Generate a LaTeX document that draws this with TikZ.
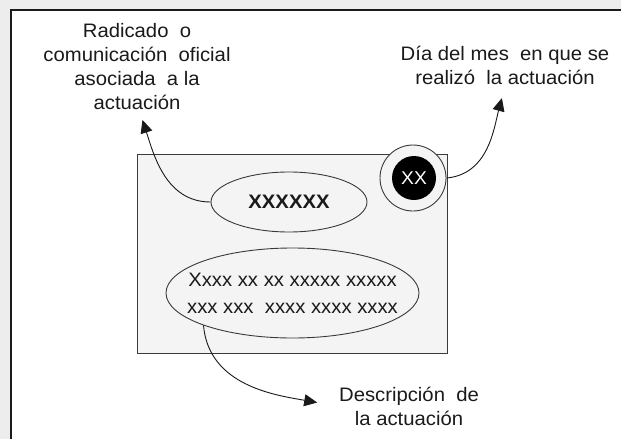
\documentclass[tikz,border=0pt]{standalone}
\usepackage{fontspec}
\setmainfont[FakeStretch=1.04]{Liberation Sans}
\usepackage{tikz}
\usetikzlibrary{positioning,shapes.geometric,arrows.meta}
\definecolor{ink}   {HTML}{1A1A1A}
\definecolor{rim}   {HTML}{3A3A3A}
\definecolor{paper} {HTML}{F4F4F4}
\definecolor{page}  {HTML}{EDEDED}
\tikzset{
  every node/.style={font=\fontsize{19.5}{24}\selectfont, text=ink},
  % --- nodes
  card/.style = {draw=rim, fill=paper, line width=1pt, inner sep=0pt},
  ell/.style  = {ellipse, draw=rim, fill=paper, line width=0.9pt, inner sep=0pt},
  ring/.style = {circle, draw=rim, fill=paper, line width=0.9pt, inner sep=0pt},
  dot/.style  = {circle, fill=black, inner sep=0pt, text=white},
  lbl/.style  = {align=center, inner sep=2pt},
  % --- edges
  e/.style    = {-{Triangle[length=13pt,width=12pt]}, line width=0.9pt, draw=ink},
}
\begin{document}
\begin{tikzpicture}[x=1pt,y=-1pt]
  \useasboundingbox (0,0) rectangle (621,439);
  \fill[page] (0,0) rectangle (621,439);
  \fill[white] (11,10) rectangle (621,439);
  \draw[line width=1.8pt, ink] (11,439) -- (11,10) -- (621,10);

  % the card
  \node[card, minimum width=310pt, minimum height=199pt] (card) at (292,253.5) {};
  \node[ell, minimum width=156pt, minimum height=60pt,
        font=\fontsize{19.5}{24}\selectfont\bfseries] (code) at (289,202) {XXXXXX};
  \node[ell, minimum width=253pt, minimum height=90pt] (desc) at (292.5,293) {};
  \node[align=center] (desctxt) at (desc) {Xxxx\ xx\ xx\ xxxxx\ xxxxx\\[3pt] xxx\ xxx\ \ xxxx\ xxxx\ xxxx};
  \node[ring, minimum size=66pt] (ring) at (413,178) {};
  \node[dot, minimum size=44pt, font=\fontsize{18.5}{22}\selectfont] (day) at (414,178) {XX};

  % labels
  \node[lbl] (radlbl)  at (137,67)  {Radicado\ \ o\\comunicación\ \ oficial\\asociada\ \ a la\\actuación};
  \node[lbl] (daylbl)  at (505,65)  {Día del mes\ \ en que se\\realizó\ \ la actuación};
  \node[lbl] (desclbl) at (409,406) {Descripción\ \ de\\la actuación};

  % arrows
  \draw[e, shorten >=8pt]  (code.west) to[out=180, in=-72] ([xshift=3pt]radlbl.south);
  \draw[e, shorten >=12pt] (ring.east) to[out=5, in=-105] (daylbl.south);
  \draw[e, shorten >=20pt] (desc.200)  to[out=-85, in=170] (desclbl.west);
\end{tikzpicture}
\end{document}
